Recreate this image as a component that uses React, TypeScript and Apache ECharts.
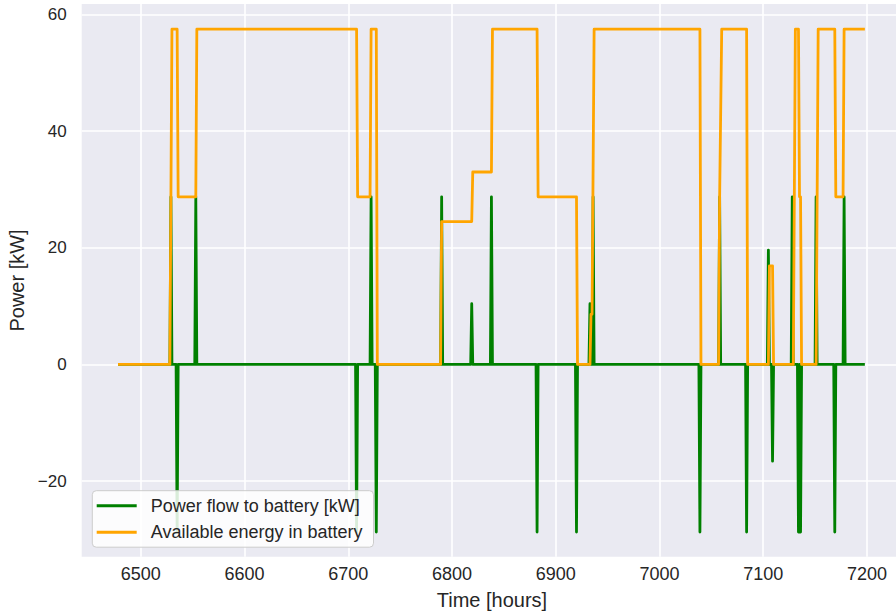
import React, { useEffect, useRef } from "react";
import * as echarts from "echarts";

// Axis ticks
const xTicks = [6500, 6600, 6700, 6800, 6900, 7000, 7100, 7200];
const yTicks = [-20, 0, 20, 40, 60];

// Power flow to battery [kW]: zero baseline with short hourly spikes
const flowStart = 6478;
const flowEnd = 7198;
const spikeHours = [6529, 6535, 6553, 6708, 6722, 6727, 6790, 6819, 6838, 6882, 6920, 6933, 6936, 7039, 7058, 7084, 7105, 7109, 7128, 7134, 7136, 7151, 7169, 7178];
const spikeKW = [28.75, -28.75, 28.75, -28.75, 28.75, -28.75, 28.75, 10.4, 28.75, -28.75, -28.75, 10.4, 28.75, -28.75, 28.75, -28.75, 19.6, -16.6, 28.75, -28.75, -28.75, 28.75, -28.75, 28.75];

// Available energy in battery: vertices of the stepped curve
const energyHours = [6478, 6528, 6530, 6535, 6536, 6553, 6554, 6708, 6709, 6721, 6722, 6727, 6728, 6789, 6790, 6819, 6820, 6838, 6839, 6882, 6883, 6920, 6921, 6933, 6934, 6935, 6937, 7039, 7040, 7057, 7058, 7060, 7084, 7085, 7105, 7106, 7109, 7110, 7129, 7131, 7134, 7135, 7136, 7137, 7151, 7153, 7169, 7170, 7177, 7178, 7198];
const energyKWh = [0, 0, 57.5, 57.5, 28.75, 28.75, 57.5, 57.5, 28.75, 28.75, 57.5, 57.5, 0, 0, 24.5, 24.5, 33, 33, 57.5, 57.5, 28.75, 28.75, 0, 0, 8.6, 8.6, 57.5, 57.5, 0, 0, 28.75, 57.5, 57.5, 0, 0, 16.9, 16.9, 0, 0, 57.5, 57.5, 28.75, 28.75, 0, 0, 57.5, 57.5, 28.75, 28.75, 57.5, 57.5];

const seriesNames = ["Power flow to battery [kW]", "Available energy in battery"];
const seriesColors = ["#008000", "#FFA500"];

const FONT = '"Liberation Sans", Arial, Helvetica, sans-serif';
const TEXT = "#262626";

export default function App() {
  const ref = useRef<HTMLDivElement>(null);
  useEffect(() => {
    document.body.style.margin = "0";
    const chart = echarts.init(ref.current as HTMLDivElement, null, { renderer: "svg" });

    const flow: number[][] = [[flowStart, 0]];
    spikeHours.forEach((t, i) => {
      flow.push([t - 1, 0], [t, spikeKW[i]], [t + 1, 0]);
    });
    flow.push([flowEnd, 0]);
    const energy = energyHours.map((t, i) => [t, energyKWh[i]]);

    chart.setOption({
      animation: false,
      backgroundColor: "#ffffff",
      grid: {
        left: 81.7,
        top: 4.1,
        width: 820.5,
        height: 552.7,
        show: true,
        backgroundColor: "#EAEAF2",
        borderWidth: 0,
        containLabel: false,
        outerBoundsMode: "none",
      },
      xAxis: {
        type: "value",
        min: 6443,
        max: 7234,
        axisLine: { show: false },
        axisTick: { show: false, customValues: xTicks },
        axisLabel: { customValues: xTicks, color: TEXT, fontSize: 18, fontFamily: FONT, margin: 8, formatter: (v: number) => String(v) },
        splitLine: { show: true, lineStyle: { color: "#ffffff", width: 1.6 } },
        name: "Time [hours]",
        nameLocation: "middle",
        nameGap: 33,
        nameTextStyle: { color: TEXT, fontSize: 20, fontFamily: FONT },
      },
      yAxis: {
        type: "value",
        min: -33,
        max: 61.8,
        axisLine: { show: false },
        axisTick: { show: false, customValues: yTicks },
        axisLabel: { customValues: yTicks, color: TEXT, fontSize: 17, fontFamily: FONT, margin: 15, formatter: (v: number) => (v < 0 ? "\u2212" + Math.abs(v) : String(v)) },
        splitLine: { show: true, lineStyle: { color: "#ffffff", width: 1.6 } },
        name: "Power [kW]",
        nameLocation: "middle",
        nameGap: 51,
        nameRotate: 90,
        nameTextStyle: { color: TEXT, fontSize: 20, fontFamily: FONT },
      },
      legend: {
        orient: "vertical",
        left: 92.3,
        top: 490.7,
        icon: "rect",
        itemWidth: 40,
        itemHeight: 3,
        itemGap: 8.5,
        padding: [6, 11, 6, 4.4],
        backgroundColor: "rgba(255,255,255,0.85)",
        borderColor: "#cccccc",
        borderWidth: 1,
        borderRadius: 4,
        textStyle: { color: TEXT, fontSize: 18, fontFamily: FONT, padding: [0, 0, 0, 9] },
        data: seriesNames,
      },
      series: [
        {
          type: "line",
          name: seriesNames[0],
          data: flow,
          symbol: "none",
          z: 2,
          lineStyle: { color: seriesColors[0], width: 2.8, join: "round" },
          itemStyle: { color: seriesColors[0] },
        },
        {
          type: "line",
          name: seriesNames[1],
          data: energy,
          symbol: "none",
          z: 3,
          lineStyle: { color: seriesColors[1], width: 2.8, join: "round" },
          itemStyle: { color: seriesColors[1] },
        },
      ],
    });
    return () => chart.dispose();
  }, []);
  return <div ref={ref} style={{ position: "absolute", left: 0, top: 0, width: 896, height: 614 }} />;
}
